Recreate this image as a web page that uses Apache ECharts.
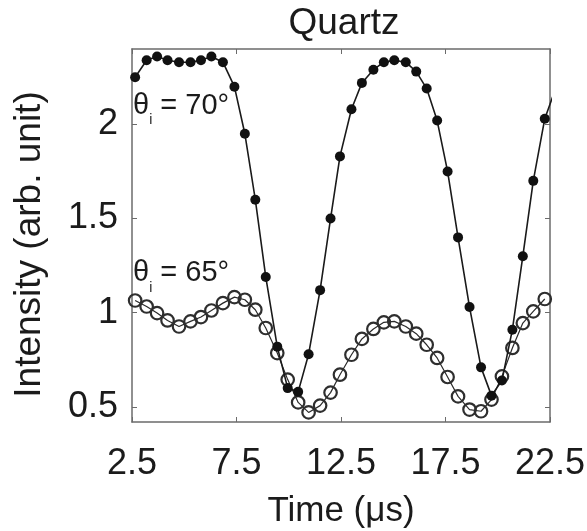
<!DOCTYPE html>
<html>
<head>
<meta charset="utf-8">
<script src="https://cdn.jsdelivr.net/npm/echarts@6/dist/echarts.min.js"></script>
<style>
  html, body { margin: 0; padding: 0; background: #fff; }
  #chart { width: 587px; height: 531px; }
</style>
</head>
<body>
<div id="chart"></div>
<script>
// Sampling times (µs) shared by both incidence angles
const times = [2.65, 3.2, 3.7, 4.2, 4.75, 5.3, 5.8, 6.3, 6.85, 7.4,
  7.9, 8.4, 8.9, 9.45, 9.95, 10.45, 10.95, 11.5, 12.0, 12.45,
  13.0, 13.5, 14.05, 14.55, 15.05, 15.6, 16.1, 16.6, 17.1, 17.6,
  18.1, 18.65, 19.2, 19.7, 20.2, 20.7, 21.2, 21.7, 22.25, 22.8];

// Intensity at θi = 70° (filled markers)
const intensity70 = [2.25, 2.34, 2.36, 2.34, 2.33, 2.33, 2.34, 2.36, 2.33, 2.2,
  1.95, 1.6, 1.19, 0.82, 0.6, 0.58, 0.78, 1.12, 1.5, 1.83,
  2.08, 2.22, 2.29, 2.33, 2.34, 2.33, 2.28, 2.19, 2.02, 1.75,
  1.4, 1.03, 0.71, 0.56, 0.64, 0.91, 1.3, 1.7, 2.03, 2.2];

// Intensity at θi = 65° (open markers)
const intensity65 = [1.065, 1.033, 0.998, 0.959, 0.927, 0.954, 0.977, 1.012, 1.051, 1.083,
  1.069, 1.016, 0.919, 0.786, 0.645, 0.524, 0.471, 0.507, 0.576, 0.671,
  0.777, 0.861, 0.914, 0.949, 0.954, 0.927, 0.889, 0.83, 0.76, 0.659,
  0.556, 0.486, 0.477, 0.539, 0.662, 0.813, 0.945, 1.007, 1.073];

const yTicks = [0.5, 1, 1.5, 2];

const FONT = 'Liberation Sans';
const TEXT = '#1b1b1b';
const FRAME = '#6b6b6b';

const pairs = (xs, ys) => ys.map((y, i) => [xs[i], y]);

const chart = echarts.init(document.getElementById('chart'), null, { renderer: 'canvas' });

const xBase = {
  type: 'value', min: 2.5, max: 22.5, interval: 5,
  axisLine: { show: true, onZero: false, lineStyle: { color: FRAME, width: 1.5 } },
  axisTick: { show: true, inside: true, length: 5, lineStyle: { color: FRAME } },
  splitLine: { show: false }
};
const yBase = {
  type: 'value', min: 0.42, max: 2.4,
  axisLine: { show: true, onZero: false, lineStyle: { color: FRAME, width: 1.5 } },
  axisTick: { show: true, inside: true, length: 5, customValues: yTicks, lineStyle: { color: FRAME } },
  splitLine: { show: false }
};

const angleLabel = (deg) => ({
  formatter: '{th|θ}{sub|i}{eq| = ' + deg + '°}',
  position: 'right', distance: 0,
  rich: {
    th: { fontFamily: FONT, fontSize: 29, color: TEXT },
    sub: { fontFamily: FONT, fontSize: 14, color: TEXT, verticalAlign: 'bottom', padding: [0, 0, -7, 0] },
    eq: { fontFamily: FONT, fontSize: 29, color: TEXT }
  }
});

chart.setOption({
  backgroundColor: '#fff',
  animation: false,
  title: {
    text: 'Quartz', left: 339, top: 0, textAlign: 'center',
    textStyle: { fontFamily: FONT, fontSize: 37, fontWeight: 'normal', color: TEXT }
  },
  grid: { left: 132, right: 37, top: 49, bottom: 109, show: false, outerBoundsMode: 'none', containLabel: false },
  xAxis: [
    Object.assign({}, xBase, {
      position: 'bottom',
      axisLabel: { fontFamily: FONT, fontSize: 36, color: TEXT, margin: 24 },
      name: 'Time (μs)', nameLocation: 'middle', nameGap: 72,
      nameTextStyle: { fontFamily: FONT, fontSize: 35, color: TEXT }
    }),
    Object.assign({}, xBase, { position: 'top', axisLabel: { show: false } })
  ],
  yAxis: [
    Object.assign({}, yBase, {
      position: 'left',
      axisLabel: { fontFamily: FONT, fontSize: 36, color: TEXT, margin: 14, customValues: yTicks },
      name: 'Intensity (arb. unit)', nameLocation: 'middle', nameGap: 84, nameRotate: 90,
      nameTextStyle: { fontFamily: FONT, fontSize: 37, color: TEXT, padding: [0, 18, 0, 0] }
    }),
    Object.assign({}, yBase, { position: 'right', axisLabel: { show: false } })
  ],
  series: [
    {
      name: 'θi = 70°', type: 'line', clip: true,
      data: pairs(times, intensity70),
      symbol: 'circle', symbolSize: 10, showAllSymbol: true,
      lineStyle: { color: '#1a1a1a', width: 1.6 },
      itemStyle: { color: '#111' },
      markPoint: {
        symbol: 'circle', symbolSize: 0, silent: true,
        label: angleLabel(70),
        data: [{ coord: [2.55, 2.1] }]
      },
      z: 3
    },
    {
      name: 'θi = 65°', type: 'line', clip: true,
      data: pairs(times, intensity65),
      symbol: 'circle', symbolSize: 12.5, showAllSymbol: true,
      lineStyle: { color: '#2a2a2a', width: 1.2 },
      itemStyle: { color: 'rgba(0,0,0,0)', borderColor: '#2e2e2e', borderWidth: 2.2 },
      markPoint: {
        symbol: 'circle', symbolSize: 0, silent: true,
        label: angleLabel(65),
        data: [{ coord: [2.55, 1.21] }]
      },
      z: 2
    }
  ]
});
</script>
</body>
</html>
